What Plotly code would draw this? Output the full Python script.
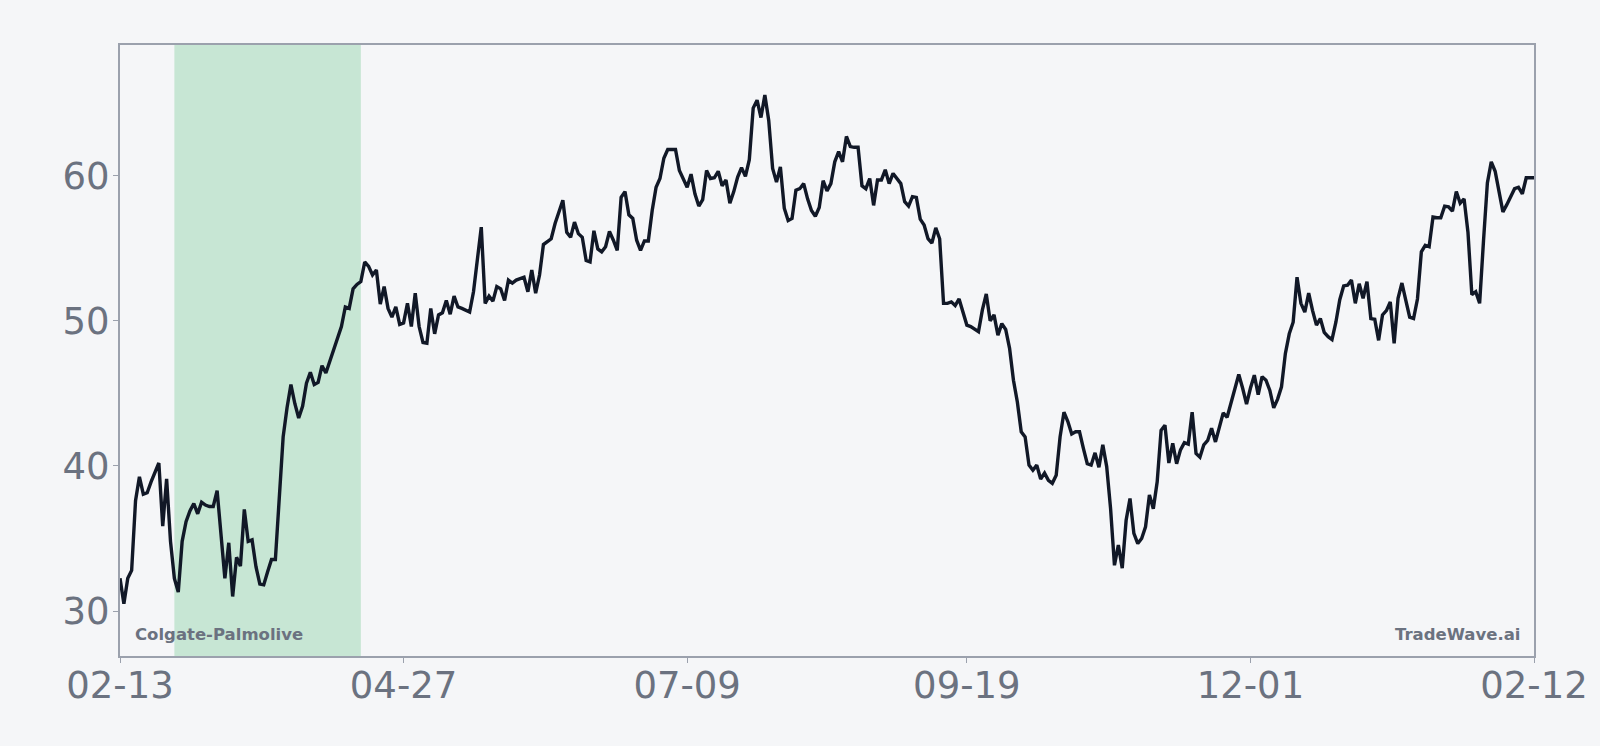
import pandas as pd
import plotly.graph_objects as go

# daily closes, 2023-02-13 .. 2024-02-12
start_date = "2023-02-13"
prices = [
    32.25, 30.5, 32.25, 32.8, 37.6, 39.25, 38.05, 38.15, 38.9, 39.5,
    40.2, 35.85, 39.1, 34.8, 32.25, 31.3, 34.8, 36.15, 36.9, 37.4,
    36.7, 37.5, 37.3, 37.2, 37.2, 38.3, 35.35, 32.25, 34.7, 31.0,
    33.7, 33.1, 37.0, 34.8, 34.9, 33.05, 31.85, 31.8, 32.7, 33.55,
    33.55, 38.3, 42.0, 44.0, 45.6, 44.3, 43.3, 44.1, 45.7, 46.45,
    45.6, 45.75, 46.9, 46.4, 47.2, 47.9, 48.65, 49.6, 50.95, 50.85,
    52.2, 52.5, 52.7, 54.05, 53.75, 53.15, 53.5, 51.15, 52.35, 50.85,
    50.25, 50.95, 49.75, 49.85, 51.2, 49.6, 51.9, 49.6, 48.5, 48.45,
    50.85, 49.1, 50.4, 50.55, 51.4, 50.45, 51.7, 50.95, 50.85, 50.7,
    50.6, 52.0, 54.2, 56.45, 51.2, 51.7, 51.35, 52.35, 52.2, 51.4,
    52.8, 52.6, 52.8, 52.9, 53.0, 52.0, 53.5, 51.9, 53.15, 55.25,
    55.45, 55.65, 56.7, 57.6, 58.3, 56.1, 55.75, 56.8, 56.0, 55.75,
    54.15, 54.05, 56.2, 54.95, 54.75, 55.1, 56.15, 55.55, 54.85, 58.5,
    58.9, 57.3, 57.05, 55.55, 54.85, 55.5, 55.5, 57.6, 59.2, 59.8,
    61.2, 61.8, 61.8, 61.8, 60.35, 59.8, 59.2, 60.1, 58.75, 57.9,
    58.35, 60.35, 59.8, 59.85, 60.3, 59.3, 59.7, 58.1, 58.9, 59.9,
    60.55, 59.95, 61.1, 64.65, 65.2, 64.0, 65.55, 63.8, 60.5, 59.55,
    60.6, 57.75, 56.9, 57.05, 59.0, 59.1, 59.45, 58.4, 57.6, 57.2,
    57.8, 59.65, 58.95, 59.45, 60.95, 61.65, 60.95, 62.7, 62.0, 61.95,
    61.95, 59.3, 59.1, 59.8, 57.95, 59.7, 59.7, 60.4, 59.45, 60.15,
    59.8, 59.45, 58.2, 57.9, 58.55, 58.5, 57.0, 56.6, 55.65, 55.35,
    56.4, 55.65, 51.2, 51.2, 51.3, 51.05, 51.5, 50.6, 49.7, 49.6,
    49.45, 49.25, 50.75, 51.85, 50.0, 50.4, 49.0, 49.8, 49.4, 48.1,
    45.9, 44.4, 42.35, 42.0, 40.05, 39.7, 40.05, 39.1, 39.5, 39.0,
    38.8, 39.35, 42.0, 43.7, 43.05, 42.2, 42.35, 42.35, 41.2, 40.15,
    40.05, 40.9, 39.9, 41.45, 39.95, 37.05, 33.15, 34.55, 32.95, 36.25,
    37.75, 35.35, 34.65, 35.0, 35.8, 38.0, 37.05, 38.9, 42.45, 42.8,
    40.2, 41.55, 40.15, 41.1, 41.6, 41.5, 43.7, 40.85, 40.6, 41.45,
    41.75, 42.6, 41.65, 42.7, 43.65, 43.35, 44.3, 45.35, 46.3, 45.35,
    44.25, 45.35, 46.25, 44.9, 46.15, 45.9, 45.2, 44.0, 44.6, 45.45,
    47.75, 49.1, 49.9, 53.0, 51.2, 50.6, 51.9, 50.7, 49.7, 50.15,
    49.2, 48.9, 48.7, 49.9, 51.45, 52.4, 52.45, 52.8, 51.2, 52.55,
    51.55, 52.7, 50.15, 50.1, 48.65, 50.4, 50.7, 51.3, 48.45, 51.55,
    52.6, 51.4, 50.25, 50.15, 51.5, 54.75, 55.2, 55.1, 57.15, 57.1,
    57.1, 57.9, 57.85, 57.55, 58.9, 58.1, 58.4, 56.1, 51.8, 52.0,
    51.2, 55.5, 59.5, 60.95, 60.3, 58.9, 57.5, 58.0, 58.6, 59.1,
    59.2, 58.75, 59.85, 59.85, 59.85,
]
dates = pd.date_range(start_date, periods=len(prices), freq="D")

# shaded window
band_start = "2023-02-27"
band_end = "2023-04-16"

tick_dates = ["2023-02-13", "2023-04-27", "2023-07-09", "2023-09-19", "2023-12-01", "2024-02-12"]
tick_labels = [pd.Timestamp(d).strftime("%m-%d") for d in tick_dates]
y_ticks = [30, 40, 50, 60]

BG = "#f5f6f8"
AXIS = "#9ba1ad"
TEXT = "#6b7280"

fig = go.Figure()
fig.add_trace(go.Scatter(
    x=dates, y=prices, mode="lines",
    line=dict(color="#111827", width=3.4),
    hoverinfo="skip", showlegend=False,
))

fig.add_vrect(x0=band_start, x1=band_end, fillcolor="#c7e6d4", opacity=1,
              line_width=0, layer="below")

fig.add_annotation(text="<b>Colgate-Palmolive</b>", xref="paper", yref="paper",
                   x=0.009, y=0.016, xanchor="left", yanchor="bottom",
                   showarrow=False, font=dict(size=16.5, color=TEXT))
fig.add_annotation(text="<b>TradeWave.ai</b>", xref="paper", yref="paper",
                   x=0.9915, y=0.016, xanchor="right", yanchor="bottom",
                   showarrow=False, font=dict(size=16.5, color=TEXT))

fig.update_layout(
    width=1600, height=746,
    margin=dict(l=120, r=64, t=45, b=90),
    paper_bgcolor=BG, plot_bgcolor=BG,
    font=dict(family="DejaVu Sans", color=TEXT, size=37),
    xaxis=dict(
        range=[dates[0], dates[-1]],
        tickvals=tick_dates, ticktext=tick_labels,
        showgrid=False, zeroline=False,
        showline=True, mirror=True, linecolor=AXIS, linewidth=2,
        ticks="outside", ticklen=5, tickcolor=AXIS, tickwidth=1,
        ticklabelstandoff=-9,
    ),
    yaxis=dict(
        range=[26.9, 69.0],
        tickvals=y_ticks,
        showgrid=False, zeroline=False,
        showline=True, mirror=True, linecolor=AXIS, linewidth=2,
        ticks="outside", ticklen=5, tickcolor=AXIS, tickwidth=1,
        ticklabelstandoff=-4,
    ),
)

fig.write_html(
    "out.html",
    config={"displayModeBar": False},
    post_script=f"document.body.style.margin='0';document.body.style.background='{BG}';",
)
